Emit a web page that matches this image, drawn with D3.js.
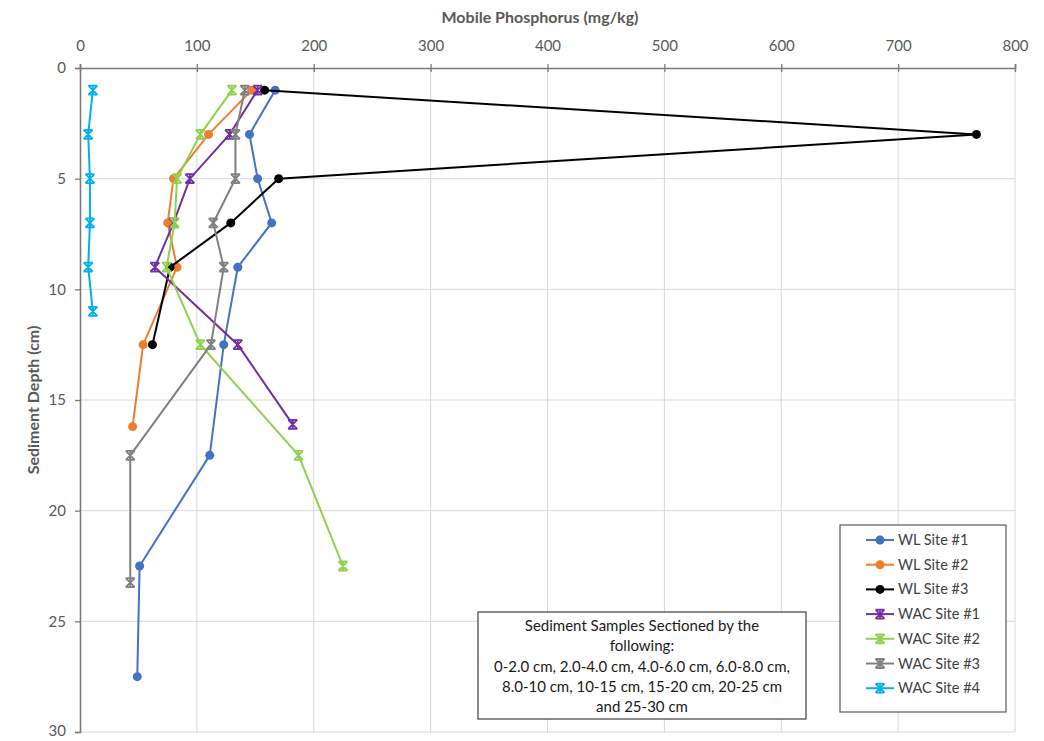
<!DOCTYPE html>
<html><head><meta charset="utf-8">
<script src="https://cdn.jsdelivr.net/npm/d3@7"></script>
<style>body{margin:0;background:#fff}svg{display:block}</style>
</head><body>
<svg id="c" width="1044" height="741"></svg>
<script>
const xTicks = [0,100,200,300,400,500,600,700,800];
const yTicks = [0,5,10,15,20,25,30];
const seriesNames = ["WL Site #1","WL Site #2","WL Site #3","WAC Site #1","WAC Site #2","WAC Site #3","WAC Site #4"];
const seriesColors = ["#4472C4","#ED7D31","#000000","#7030A0","#92D050","#808080","#00B0F0"];
const seriesMarkers = ["circle","circle","circle","star","star","star","star"];
const wl1Depth = [1,3,5,7,9,12.5,17.5,22.5,27.5];
const wl1P     = [167,145,152,164,135,123,111,51,49];
const wl2Depth = [1,3,5,7,9,12.5,16.2];
const wl2P     = [147,110,80,75,83,54,45];
const wl3Depth = [1,3,5,7,9,12.5];
const wl3P     = [158,767,170,129,77,62];
const wac1Depth = [1,3,5,7,9,12.5,16.1];
const wac1P     = [152,128,94,80,64,135,182];
const wac2Depth = [1,3,5,7,9,12.5,17.5,22.5];
const wac2P     = [130,103,83,81,74,103,187,225];
const wac3Depth = [1,3,5,7,9,12.5,17.5,23.25];
const wac3P     = [141,133,133,114,123,112,43,43];
const wac4Depth = [1,3,5,7,9,11];
const wac4P     = [11,7,8.5,8.5,7,11];
const noteLines = ["Sediment Samples Sectioned by the","following:","0-2.0 cm, 2.0-4.0 cm, 4.0-6.0 cm, 6.0-8.0 cm,","8.0-10 cm, 10-15 cm, 15-20 cm, 20-25 cm","and 25-30 cm"];

const depths = [wl1Depth,wl2Depth,wl3Depth,wac1Depth,wac2Depth,wac3Depth,wac4Depth];
const vals = [wl1P,wl2P,wl3P,wac1P,wac2P,wac3P,wac4P];
const series = seriesNames.map((n,i)=>({name:n,color:seriesColors[i],marker:seriesMarkers[i],
  pts:depths[i].map((d,j)=>({d:d,v:vals[i][j]}))}));

const font = "Lato, 'Open Sans', sans-serif";
const svg = d3.select("#c");
const x = d3.scaleLinear().domain([0,800]).range([80,1015]);
const y = d3.scaleLinear().domain([0,30]).range([68,732]);

// gridlines
svg.append("g").selectAll("line").data(xTicks.slice(1)).join("line")
  .attr("x1",d=>x(d)).attr("x2",d=>x(d)).attr("y1",y(0)).attr("y2",y(30))
  .attr("stroke","#d9d9d9").attr("stroke-width",1);
svg.append("g").selectAll("line").data(yTicks.slice(1)).join("line")
  .attr("x1",x(0)).attr("x2",x(800)).attr("y1",d=>y(d)).attr("y2",d=>y(d))
  .attr("stroke","#d9d9d9").attr("stroke-width",1);

// axes
const xAxis = svg.append("g").attr("transform",`translate(0,${y(0)})`)
  .call(d3.axisTop(x).tickValues(xTicks).tickSize(4).tickPadding(13));
const yAxis = svg.append("g").attr("transform",`translate(${x(0)},0)`)
  .call(d3.axisLeft(y).tickValues(yTicks).tickSize(5).tickPadding(9));
[xAxis,yAxis].forEach(a=>{
  a.select(".domain").attr("stroke","#7a7a7a").attr("stroke-width",1.6);
  a.selectAll(".tick line").attr("stroke","#7a7a7a").attr("stroke-width",1.3);
  a.selectAll(".tick text").attr("fill","#595959").style("font-family",font).style("font-size","15px");
});
xAxis.selectAll(".tick line").attr("y1",4).attr("y2",-4);
yAxis.selectAll(".tick text").filter(d=>d===30).attr("dy","0.2em");

// titles
svg.append("text").attr("x",540).attr("y",23).attr("text-anchor","middle")
  .style("font-family",font).style("font-size","16px").style("font-weight","bold")
  .attr("fill","#595959").text("Mobile Phosphorus (mg/kg)");
svg.append("text").attr("transform","translate(39,400) rotate(-90)").attr("text-anchor","middle")
  .style("font-family",font).style("font-size","16px").style("font-weight","bold")
  .attr("fill","#595959").text("Sediment Depth (cm)");

function drawMarker(g, type, color, cx, cy){
  if(type==="circle"){
    g.append("circle").attr("cx",cx).attr("cy",cy).attr("r",4.5).attr("fill",color);
  } else {
    const s=4.5;
    const p=`M${cx-s},${cy-s}L${cx+s},${cy+s}M${cx+s},${cy-s}L${cx-s},${cy+s}M${cx-s},${cy-s}L${cx+s},${cy-s}M${cx-s},${cy+s}L${cx+s},${cy+s}M${cx},${cy-s}L${cx},${cy+s}`;
    g.append("path").attr("d",p).attr("stroke",color).attr("stroke-width",1.8).attr("fill","none");
  }
}

const line = d3.line().x(p=>x(p.v)).y(p=>y(p.d));
const plot = svg.append("g");
series.forEach(s=>{
  const g = plot.append("g");
  g.append("path").attr("d",line(s.pts)).attr("fill","none").attr("stroke",s.color).attr("stroke-width",2);
  s.pts.forEach(p=>drawMarker(g,s.marker,s.color,x(p.v),y(p.d)));
});

// note box
const nb = svg.append("g");
nb.append("rect").attr("x",478).attr("y",612).attr("width",328).attr("height",107)
  .attr("fill","#fff").attr("stroke","#404040").attr("stroke-width",1.2);
nb.selectAll("text").data(noteLines).join("text")
  .attr("x",642).attr("y",(d,i)=>631+i*20.3).attr("text-anchor","middle")
  .style("font-family",font).style("font-size","15px").attr("fill","#1a1a1a").text(d=>d);

// legend
const lg = svg.append("g");
lg.append("rect").attr("x",840).attr("y",525).attr("width",166).attr("height",187)
  .attr("fill","#fff").attr("stroke","#595959").attr("stroke-width",1.2);
series.forEach((s,i)=>{
  const ly = 540 + i*24.7;
  lg.append("line").attr("x1",866).attr("x2",894).attr("y1",ly).attr("y2",ly)
    .attr("stroke",s.color).attr("stroke-width",2);
  drawMarker(lg,s.marker,s.color,880,ly);
  lg.append("text").attr("x",898).attr("y",ly+5)
    .style("font-family",font).style("font-size","14.5px").attr("fill","#404040").text(s.name);
});
</script>
</body></html>
